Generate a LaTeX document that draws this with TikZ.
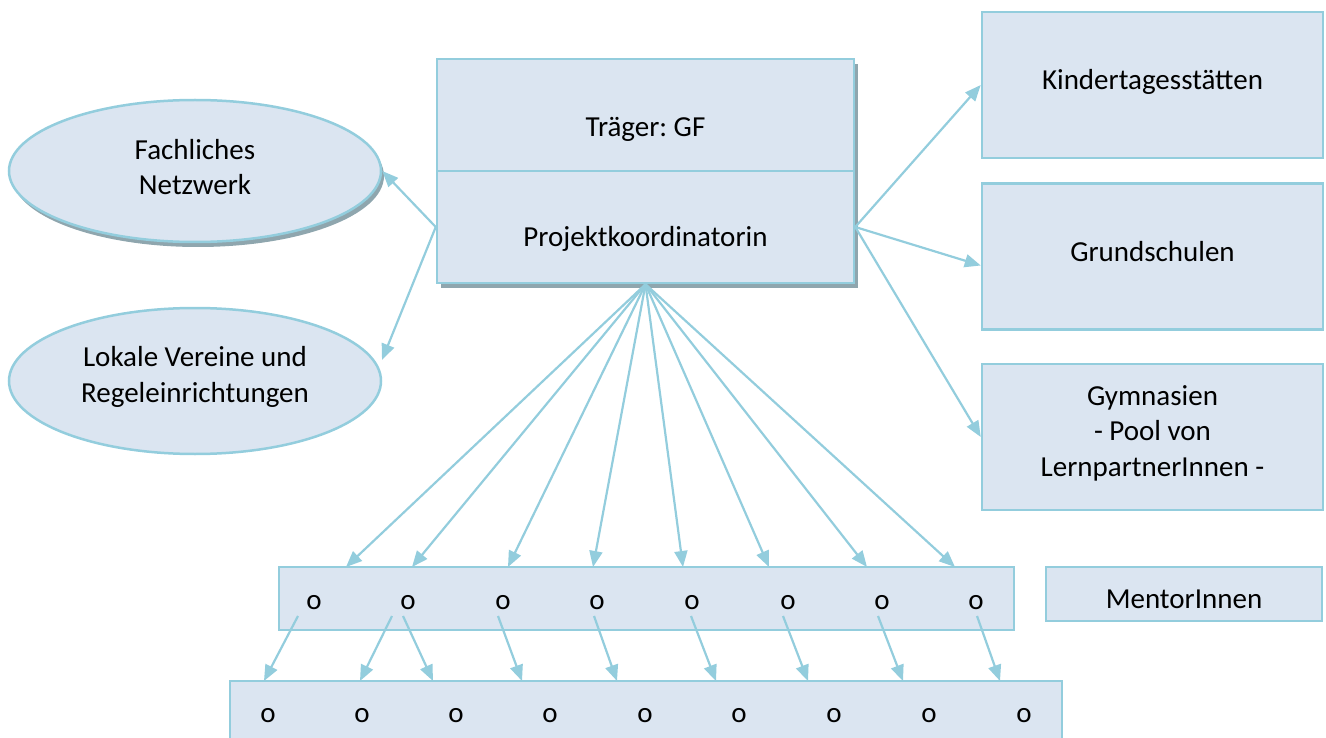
\documentclass[tikz,border=0pt]{standalone}
\usepackage{fontspec}
\setmainfont{Carlito}
\usetikzlibrary{arrows.meta,shapes.geometric,calc}
\definecolor{boxfill}{HTML}{DBE5F1}
\definecolor{boxline}{HTML}{93CDDD}
\definecolor{shadowc}{HTML}{8FA6AE}
\frenchspacing
\begin{document}
\begin{tikzpicture}[x=1pt,y=-1pt, font=\fontsize{29}{35.5}\selectfont,
  box/.style={draw=boxline, fill=boxfill, line width=2.5pt, inner sep=0pt, align=center},
  shad/.style={fill=shadowc, inner sep=0pt},
  arr/.style={draw=boxline, line width=2.2pt, -{Triangle[length=16pt,width=13pt]}},
  txt/.style={inner sep=0pt, align=center}]
\useasboundingbox (0,0) rectangle (1326,738);

% shadows
\fill[shadowc] (441,64) rectangle (858,288);
\node[shad, ellipse, minimum width=372pt, minimum height=142pt] (fnshadow) at (198,176) {};

% left ellipses
\node[box, ellipse, minimum width=372pt, minimum height=142pt] (fn) at (195,171) {};
\node[txt] (fnt) at (195,167) {Fachliches\\Netzwerk};
\node[box, ellipse, minimum width=372pt, minimum height=146pt] (lv) at (195,381) {};
\node[txt] (lvt) at (195,377) {Lokale Vereine und\\Regeleinrichtungen};

% central box
\node[box, minimum width=417pt, minimum height=112pt] (tr) at (645.5,115) {};
\node[txt] (trt) at (645.5,129) {Träger: GF};
\node[box, minimum width=417pt, minimum height=112pt] (pk) at (645.5,227) {};
\node[txt] (pkt) at (645.5,239) {Projektkoordinatorin};

% right boxes
\node[box, minimum width=341pt, minimum height=146pt] (kt) at (1152.5,85) {};
\node[txt] (ktt) at (1152.5,82) {Kindertagesstätten};
\node[box, minimum width=341pt, minimum height=146pt] (gs) at (1152.5,256.5) {};
\node[txt] (gst) at (1152.5,252) {Grundschulen};
\node[box, minimum width=341pt, minimum height=146pt] (gy) at (1152.5,437) {};
\node[txt] (gyt) at (1152.5,433) {Gymnasien\\- Pool von\\LernpartnerInnen -};
\node[box, minimum width=276pt, minimum height=54pt] (mi) at (1184,594) {};
\node[txt] (mit) at (1184,599) {MentorInnen};

% rows
\node[box, minimum width=735pt, minimum height=63pt] (mr) at (646.5,598.5) {};
\node[box, minimum width=832pt, minimum height=79pt] (br) at (646,720.5) {};
\foreach \x [count=\i] in {314,408,503,597,692,788,882,976}
  \node[txt] (m\i) at (\x,603) {o};
\foreach \x [count=\i] in {268,362,456,550,645,739,834,929,1024}
  \node[txt] (b\i) at (\x,716) {o};

% arrows left / right
\coordinate (lvtip) at (382,360);
\draw[arr] (pk.west) -- (fn.east);
\draw[arr] (pk.west) -- (lvtip);
\draw[arr] (pk.east) -- (kt.west);
\draw[arr] (pk.east) -- ([yshift=-9pt]gs.west);
\draw[arr] (pk.east) -- (gy.west);

% arrows down to middle row
\foreach \x [count=\i] in {346,412,508,593,683,769,867,955} {
  \coordinate (t\i) at (\x,567);
  \draw[arr] (pk.south) -- (t\i);
}

% arrows middle row to bottom row
\foreach \sx/\ex [count=\i] in {298/264,392/360,403/433,498/522,594/617,691/716,783/808,878/903,977/1000} {
  \coordinate (s\i) at (\sx,616);
  \coordinate (e\i) at (\ex,681);
  \draw[arr] (s\i) -- (e\i);
}
\end{tikzpicture}
\end{document}
